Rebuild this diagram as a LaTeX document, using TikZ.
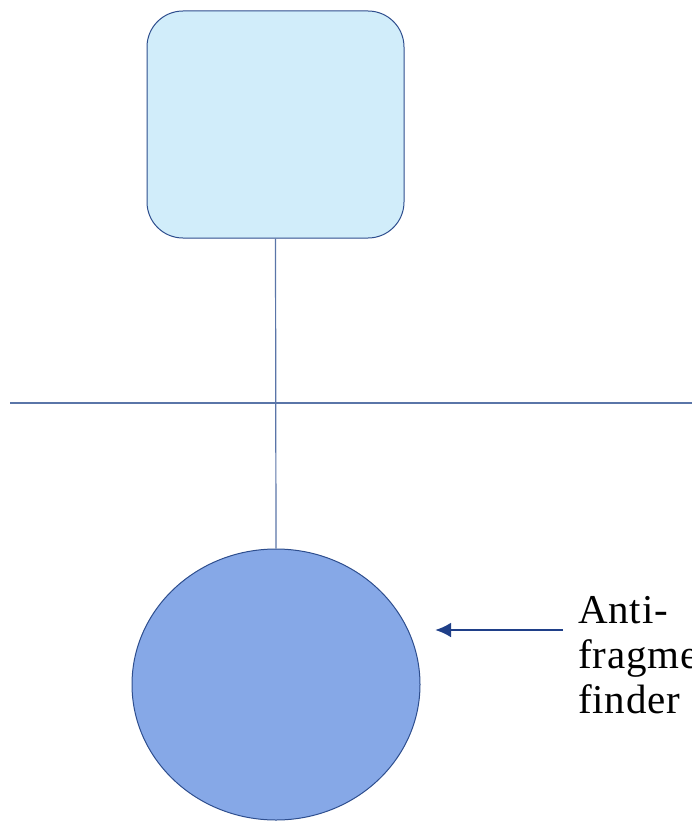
\documentclass[tikz,border=0pt]{standalone}
\usepackage{fontspec}
\setmainfont{Liberation Serif}
\definecolor{boxfill}{HTML}{D1EDFA}
\definecolor{edgeblue}{HTML}{2E4E8E}
\definecolor{linkblue}{HTML}{5A75A8}
\definecolor{ballfill}{HTML}{86A8E7}
\definecolor{arrowblue}{HTML}{1F3F88}
\usetikzlibrary{shapes.geometric,arrows.meta}
\tikzset{
  unitbox/.style={draw=edgeblue, fill=boxfill, line width=1pt, rounded corners=36pt,
    minimum width=257pt, minimum height=227pt, inner sep=0pt},
  ball/.style={draw=edgeblue, fill=ballfill, line width=1pt, ellipse, minimum width=288pt,
    minimum height=271pt, inner sep=0pt},
  link/.style={draw=linkblue, line width=1.2pt},
  pointer/.style={draw=arrowblue, line width=2.8pt, -{Latex[length=16pt,width=15pt]}},
  caption/.style={anchor=base west, align=left, inner sep=0pt,
    font=\fontsize{41}{45}\selectfont\addfontfeatures{LetterSpace=2}}
}
\begin{document}
\begin{tikzpicture}[x=1pt,y=-1pt]
  \useasboundingbox (0,0) rectangle (692,821);
  \clip (0,0) rectangle (692,821);
  \node[unitbox] (top) at (275.5,124.5) {};
  \node[ball] (bottom) at (276,684.5) {};
  \coordinate (hl) at (10,403);
  \coordinate (hr) at (692,403);
  \draw[link] (hl) -- (hr);
  \draw[link] (top.south) -- (bottom.north);
  \coordinate (tail) at (563,630);
  \coordinate (tip) at (435,630);
  \draw[pointer] (tail) -- (tip);
  % base anchor of a multi-line node sits on its last line
  \node[caption] (label) at (578,713) {Anti-\\fragment\\finder};
\end{tikzpicture}
\end{document}
